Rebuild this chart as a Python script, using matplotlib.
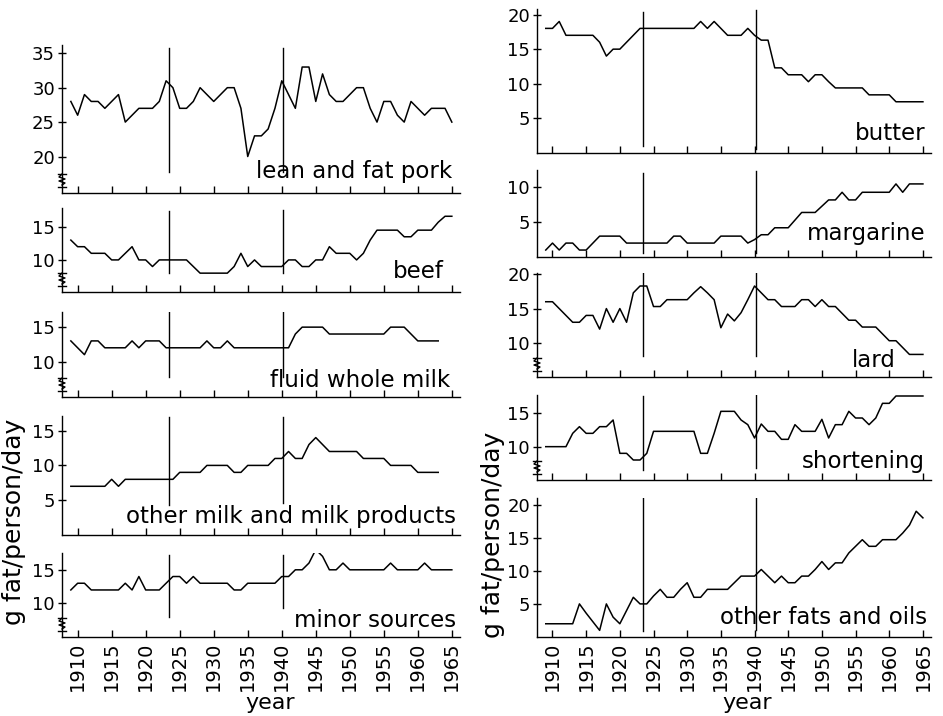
import numpy as np
import matplotlib
matplotlib.use('Agg')
import matplotlib.pyplot as plt
from matplotlib.lines import Line2D

# g fat / person / day
years = list(range(1909, 1966))

pork = [28, 26, 29, 28, 28, 27, 28, 29, 25, 26,
        27, 27, 27, 28, 31, 30, 27, 27, 28, 30,
        29, 28, 29, 30, 30, 27, 20, 23, 23, 24,
        27, 31, 29, 27, 33, 33, 28, 32, 29, 28,
        28, 29, 30, 30, 27, 25, 28, 28, 26, 25,
        28, 27, 26, 27, 27, 27, 25]
beef = [13, 12, 12, 11, 11, 11, 10, 10, 11, 12,
        10, 10, 9, 10, 10, 10, 10, 10, 9, 8,
        8, 8, 8, 8, 9, 11, 9, 10, 9, 9,
        9, 9, 10, 10, 9, 9, 10, 10, 12, 11,
        11, 11, 10, 11, 13, 14.5, 14.5, 14.5, 14.5, 13.5,
        13.5, 14.5, 14.5, 14.5, 15.7, 16.6, 16.6]
fluid_milk = [13, 12, 11, 13, 13, 12, 12, 12, 12, 13,
              12, 13, 13, 13, 12, 12, 12, 12, 12, 12,
              13, 12, 12, 13, 12, 12, 12, 12, 12, 12,
              12, 12, 12, 14, 15, 15, 15, 15, 14, 14,
              14, 14, 14, 14, 14, 14, 14, 15, 15, 15,
              14, 13, 13, 13, 13]
other_milk = [7, 7, 7, 7, 7, 7, 8, 7, 8, 8,
              8, 8, 8, 8, 8, 8, 9, 9, 9, 9,
              10, 10, 10, 10, 9, 9, 10, 10, 10, 10,
              11, 11, 12, 11, 11, 13, 14, 13, 12, 12,
              12, 12, 12, 11, 11, 11, 11, 10, 10, 10,
              10, 9, 9, 9, 9]
minor = [12, 13, 13, 12, 12, 12, 12, 12, 13, 12,
         14, 12, 12, 12, 13, 14, 14, 13, 14, 13,
         13, 13, 13, 13, 12, 12, 13, 13, 13, 13,
         13, 14, 14, 15, 15, 16, 18, 17, 15, 15,
         16, 15, 15, 15, 15, 15, 15, 16, 15, 15,
         15, 15, 16, 15, 15, 15, 15]
butter = [18, 18, 19, 17, 17, 17, 17, 17, 16, 14,
          15, 15, 16, 17, 18, 18, 18, 18, 18, 18,
          18, 18, 18, 19, 18, 19, 18, 17, 17, 17,
          18, 17, 16.3, 16.3, 12.3, 12.3, 11.3, 11.3, 11.3, 10.3,
          11.3, 11.3, 10.3, 9.4, 9.4, 9.4, 9.4, 9.4, 8.4, 8.4,
          8.4, 8.4, 7.4, 7.4, 7.4, 7.4, 7.4]
margarine = [1, 2, 1, 2, 2, 1, 1, 2, 3, 3,
             3, 3, 2, 2, 2, 2, 2, 2, 2, 3,
             3, 2, 2, 2, 2, 2, 3, 3, 3, 3,
             2, 2.5, 3.2, 3.2, 4.2, 4.2, 4.2, 5.3, 6.4, 6.4,
             6.4, 7.3, 8.2, 8.2, 9.3, 8.2, 8.2, 9.3, 9.3, 9.3,
             9.3, 9.3, 10.5, 9.3, 10.5, 10.5, 10.5]
lard = [16, 16, 15, 14, 13, 13, 14, 14, 12, 15,
        13, 15, 13, 17.3, 18.3, 18.3, 15.3, 15.3, 16.3, 16.3,
        16.3, 16.3, 17.3, 18.2, 17.3, 16.3, 12.2, 14.2, 13.2, 14.4,
        16.3, 18.3, 17.3, 16.3, 16.3, 15.3, 15.3, 15.3, 16.3, 16.3,
        15.3, 16.3, 15.3, 15.3, 14.3, 13.3, 13.3, 12.3, 12.3, 12.3,
        11.3, 10.3, 10.3, 9.3, 8.3, 8.3, 8.3]
shortening = [10, 10, 10, 10, 12, 13, 12, 12, 13, 13,
              14, 9, 9, 8, 8, 9, 12.3, 12.3, 12.3, 12.3,
              12.3, 12.3, 12.3, 9, 9, 12, 15.3, 15.3, 15.3, 14,
              13.3, 11.3, 13.4, 12.3, 12.3, 11.1, 11.1, 13.3, 12.3, 12.3,
              12.3, 14.1, 11.3, 13.3, 13.3, 15.3, 14.3, 14.3, 13.3, 14.3,
              16.5, 16.5, 17.6, 17.6, 17.6, 17.6, 17.6]
other_fats = [2, 2, 2, 2, 2, 5, 3.6, 2.3, 1, 5,
              3, 2, 4, 6, 5, 5, 6.2, 7.2, 6, 6,
              7.2, 8.2, 6, 6, 7.2, 7.2, 7.2, 7.2, 8.2, 9.2,
              9.2, 9.2, 10.2, 9.2, 8.2, 9.2, 8.2, 8.2, 9.2, 9.2,
              10.2, 11.4, 10.2, 11.2, 11.2, 12.7, 13.7, 14.7, 13.7, 13.7,
              14.7, 14.7, 14.7, 15.7, 16.9, 19, 18]

period_marks = [1923.4, 1940.2]
year_ticks = list(range(1910, 1966, 5))

W, H = 943, 716

# layout: label, data, top px, bottom px, ylim, yticks, axis break,
#         vline span (axes frac), label pos (axes frac)
left_col = (62, 460, [
    ('lean and fat pork', pork, 45, 193, (14.7, 36.2), [20, 25, 30, 35], True,
     [(0.14, 0.98), (0.14, 0.98)], (0.98, 0.10)),
    ('beef', beef, 208, 292, (5.15, 17.85), [10, 15], True,
     [(0.23, 0.96), (0.23, 0.98)], (0.96, 0.17)),
    ('fluid whole milk', fluid_milk, 312, 397, (4.85, 17.2), [10, 15], True,
     [(0.24, 1.0), (0.24, 1.0)], (0.975, 0.12)),
    ('other milk and milk products', other_milk, 416, 535, (0, 17.1), [5, 10, 15], False,
     [(0.25, 0.99), (0.27, 0.99)], (0.99, 0.10)),
    ('minor sources', minor, 553, 637, (5, 17.5), [10, 15], True,
     [(0.24, 0.98), (0.35, 0.98)], (0.99, 0.12)),
])
right_col = (537, 931, [
    ('butter', butter, 9, 153, (0, 20.8), [5, 10, 15, 20], False,
     [(0.05, 0.98), (0.03, 0.99)], (0.985, 0.09)),
    ('margarine', margarine, 170, 257, (0, 12.5), [5, 10], False,
     [(0.05, 0.97), (0.05, 0.99)], (0.985, 0.19)),
    ('lard', lard, 273, 377, (5, 20.2), [10, 15, 20], True,
     [(0.2, 1.0), (0.2, 1.0)], (0.91, 0.10)),
    ('shortening', shortening, 395, 480, (5, 17.75), [10, 15], True,
     [(0.12, 0.99), (0.14, 1.0)], (0.985, 0.14)),
    ('other fats and oils', other_fats, 498, 637, (0, 21), [5, 10, 15, 20], False,
     [(0.04, 1.0), (0.05, 1.0)], (0.99, 0.09)),
])

fig = plt.figure(figsize=(W / 100, H / 100), dpi=100)
fig.patch.set_facecolor('white')


def fx(px):
    return px / W


def fy(py):
    return 1 - py / H


def draw_break(x, yb):
    # little squiggle on the y axis, yb = pixel y of the axis bottom
    segs = [[(x - 4, yb - 19), (x + 4, yb - 19)],
            [(x, yb - 19), (x - 3, yb - 16), (x + 3, yb - 14), (x - 3, yb - 12),
             (x + 3, yb - 10), (x, yb - 8)],
            [(x - 4, yb - 6), (x + 4, yb - 6)]]
    for s in segs:
        xs = [fx(p[0]) for p in s]
        ys = [fy(p[1]) for p in s]
        fig.add_artist(Line2D(xs, ys, color='black', lw=1.0,
                              transform=fig.transFigure))


for x0, x1, panels in (left_col, right_col):
    for i, (name, vals, top, bot, ylim, yt, brk, vspans, lpos) in enumerate(panels):
        ax = fig.add_axes([fx(x0), fy(bot), fx(x1 - x0), (bot - top) / H])
        ax.plot(years[:len(vals)], vals, color='black', lw=1.1)
        for xm, (a, b) in zip(period_marks, vspans):
            ax.axvline(xm, ymin=a, ymax=b, color='black', lw=1.0)
        ax.set_xlim(1907.7, 1966.2)
        ax.set_ylim(*ylim)
        ax.set_yticks(yt)
        ax.set_xticks(year_ticks)
        for s in ('top', 'right'):
            ax.spines[s].set_visible(False)
        for s in ('left', 'bottom'):
            ax.spines[s].set_linewidth(1.0)
        ax.tick_params(axis='y', direction='inout', length=6, width=1.0,
                       labelsize=13, pad=2)
        ax.tick_params(axis='x', direction='in', length=5, width=1.0, pad=3)
        if i == len(panels) - 1:
            ax.set_xticklabels([str(y) for y in year_ticks], rotation=90,
                               fontsize=14,
                               family=['Liberation Sans Narrow', 'DejaVu Sans'])
        else:
            ax.set_xticklabels([])
        ax.text(lpos[0], lpos[1], name, transform=ax.transAxes, ha='right',
                va='baseline', fontsize=16.5)
        if brk:
            draw_break(x0, bot)

fig.text(fx(14), fy(522), 'g fat/person/day', rotation=90, ha='center',
         va='center', fontsize=18)
fig.text(fx(493), fy(535), 'g fat/person/day', rotation=90, ha='center',
         va='center', fontsize=18)
fig.text(fx(270), fy(703), 'year', ha='center', va='center', fontsize=16)
fig.text(fx(747), fy(703), 'year', ha='center', va='center', fontsize=16)

fig.savefig('out.png', dpi=100, facecolor='white')
